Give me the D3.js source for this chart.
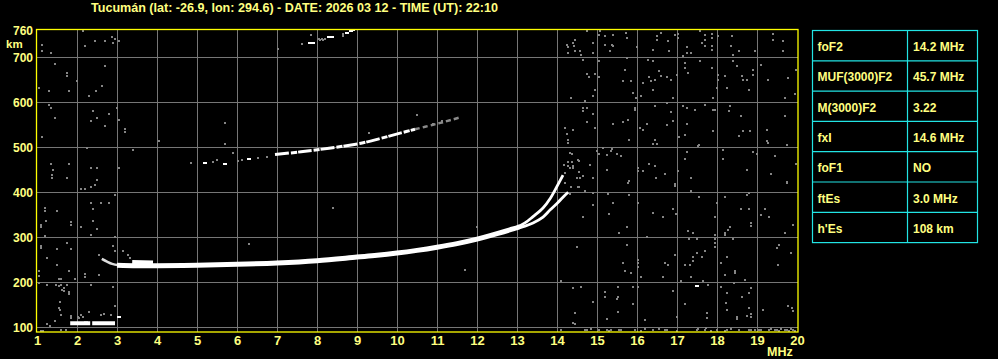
<!DOCTYPE html>
<html>
<head>
<meta charset="utf-8">
<script src="https://d3js.org/d3.v7.min.js"></script>
<style>
body { margin: 0; background: #000; }
svg { display: block; }
text { font-family: "Liberation Sans", Arial, sans-serif; font-weight: bold; fill: #ffff80; }
</style>
</head>
<body>
<div id="chart"></div>
<script>
var title = "Tucumán (lat: -26.9, lon: 294.6) - DATE: 2026 03 12 - TIME (UT): 22:10";

var freqTicks = d3.range(1, 21);
var heightTicks = [100, 200, 300, 400, 500, 600, 700, 760];
var gridHeights = [100, 200, 300, 400, 500, 600, 700];

var paramNames = ["foF2", "MUF(3000)F2", "M(3000)F2", "fxI", "foF1", "ftEs", "h'Es"];
var paramValues = ["14.2 MHz", "45.7 MHz", "3.22", "14.6 MHz", "NO", "3.0 MHz", "108 km"];

// F trace (common part, then O and X branches)
var hookF = [2.62, 2.75, 2.88, 3.05];
var hookH = [252, 246, 241, 238];
var mainF = [3.0, 3.5, 4.0, 5.0, 6.0, 7.0, 8.0, 9.0, 9.5, 10.0, 10.5, 11.0, 11.5, 12.0, 12.5, 12.9, 13.08];
var mainH = [238, 237, 237, 238, 240, 243, 248, 256, 260, 265, 271, 278, 286, 296, 308, 318.5, 324];
var lumpF = [3.38, 3.9];
var lumpH = [245, 244];
var oF = [12.95, 13.2, 13.4, 13.65, 13.83, 14.03, 14.15];
var oH = [320, 332, 346, 365, 386, 418, 438];
var xF = [12.95, 13.2, 13.4, 13.65, 13.83, 14.03, 14.18, 14.28];
var xH = [319, 325, 332, 345, 361, 378, 392, 400];

// second hop
var hop2F = [6.95, 7.6, 8.3, 9.1, 9.6, 10.1, 10.45];
var hop2H = [484, 490, 498, 509, 520, 532, 540];
var hop2TailF = [10.45, 10.9, 11.2, 11.6];
var hop2TailH = [540, 550, 557, 567];
var hop2DotsF = [5.2, 5.7, 6.3];
var hop2DotsH = [466, 464, 474];

// third hop
var hop3F = [7.82, 7.9, 8.3, 8.38, 8.75, 8.85, 8.9];
var hop3H = [732, 732, 746, 746, 754, 759, 760];

// sporadic E
var esF = [1.83, 2.33, 2.38, 2.95];
var esH = [109, 109, 109, 109];

// grey noise dots [MHz, km]
var noiseLeft = [[2.15,758],[2.45,736],[2.7,736],[2.88,745],[2.95,741],[2.9,732],[3.05,736],[1.13,727],[1.13,714],
  [1.35,710],[2.2,725],[1.45,685],[1.75,665],[1.75,658],[2.0,647],[2.7,681],[2.63,636],[2.48,625],[2.3,614],
  [1.8,625],[1.05,632],[1.3,625],[1.3,594],[1.35,587],[1.45,565],[2.4,581],[2.5,565],[2.8,574],[2.7,547],
  [2.35,558],[3.05,561],[3.2,541],[3.2,534],[1.13,523],[3.0,587],[2.25,498],[3.4,494],[1.35,463],[1.8,463],
  [1.4,450],[1.38,438],[1.38,432],[1.75,432],[2.35,454],[2.5,454],[2.5,427],[2.45,416],[2.35,412],[2.1,407],
  [2.2,407],[3.05,454],[2.95,394],[2.35,376],[2.4,363],[2.6,376],[2.8,376],[1.2,365],[1.2,358],[1.5,358],
  [2.1,323],[2.4,336],[2.5,318],[2.35,305],[2.95,301],[1.1,327],[1.1,323],[1.23,336],[1.2,303],[1.85,334],
  [1.85,327],[1.1,281],[1.1,276],[1.25,254],[1.5,274],[1.75,287],[1.85,274],[1.5,238],[1.05,225],[1.05,214],
  [1.05,198],[1.8,225],[1.55,207],[1.6,207],[1.95,207],[2.2,218],[2.2,212],[2.55,216],[2.9,281],[2.95,270],
  [3.15,270],[3.28,261],[3.33,254],[2.55,261],[1.25,194],[1.48,194],[1.6,194],[1.75,194],[1.63,183],[1.68,181],
  [1.8,178],[1.8,174],[1.58,156],[2.35,194],[2.9,190],[2.95,147],[1.55,143],[1.58,138],[1.6,127],[2.3,134],
  [2.1,127],[1.85,125],[1.85,121],[2.05,121],[2.6,127],[2.68,130],[2.85,127],[1.45,114],[1.33,103],[1.6,94],
  [1.73,94],[1.1,92],[1.15,92],[1.55,192],[1.68,187],[2.02,123],[2.15,123],[2.2,112],[2.25,112],[1.25,107]];

var noiseMid = [[4.85,465],[5.4,467],[5.5,472],[5.9,487],[6.03,469],[6.13,472],[6.53,476],[6.75,478],
  [5.7,554],[5.7,507],[9.3,532],[10.5,572],[10.9,552],[11.13,558],[12.0,323],[11.7,227],[7.03,718],
  [7.63,730],[7.85,750],[8.05,741],[8.12,741],[8.2,740],[8.08,738],[8.16,738],[8.65,752],[8.65,748],
  [4.05,514],[8.4,365],[6.3,285]];

var noiseRight = [[14.75,758],[15.08,758],[15.05,750],[15.2,747],[15.4,750],[15.73,754],[15.75,743],[14.25,727],
  [14.28,723],[14.4,732],[14.45,738],[14.43,725],[14.58,714],[14.45,714],[14.28,710],[14.9,732],[14.9,710],
  [15.2,727],[15.38,727],[15.4,725],[15.33,714],[14.65,694],[14.6,705],[15.05,692],[15.75,698],[16.0,723],
  [16.5,747],[16.5,738],[16.6,754],[16.78,736],[16.95,750],[17.03,752],[17.03,743],[16.4,716],[16.8,714],
  [17.25,723],[17.15,703],[17.25,710],[17.35,710],[17.58,758],[17.7,750],[17.7,738],[17.7,725],[17.63,732],
  [17.88,752],[17.88,743],[17.88,725],[17.88,716],[18.03,747],[18.38,747],[18.35,725],[18.4,705],[18.4,692],
  [18.55,714],[18.95,714],[19.4,752],[19.4,738],[19.65,736],[19.65,714],[16.28,694],[16.4,692],[17.2,687],
  [17.2,676],[17.58,692],[17.88,676],[18.5,681],[18.9,672],[19.1,683],[18.63,658],[18.75,650],[18.65,650],
  [18.9,661],[18.03,661],[18.03,650],[18.2,658],[19.28,650],[19.78,654],[19.97,672],[14.75,663],[14.8,656],
  [14.95,663],[15.05,656],[15.7,672],[15.65,647],[15.85,647],[16.3,656],[16.35,647],[16.45,650],[16.55,670],
  [16.6,658],[16.75,656],[16.85,650],[17.0,661],[16.15,643],[17.28,665],[14.95,627],[14.9,614],[14.35,610],
  [14.7,603],[15.9,621],[16.1,614],[15.98,610],[16.4,627],[16.9,610],[17.9,610],[18.0,632],[18.25,632],
  [18.8,627],[19.7,610],[19.95,618],[14.65,587],[14.65,581],[14.75,587],[14.9,574],[14.2,543],[14.25,530],
  [14.4,538],[14.28,516],[14.28,509],[14.75,556],[14.95,543],[15.4,552],[15.65,556],[15.78,561],[15.95,587],
  [15.95,583],[15.8,516],[16.08,543],[16.15,538],[16.25,552],[16.45,592],[16.75,598],[16.85,578],[16.75,550],
  [16.9,558],[16.45,516],[16.4,507],[16.5,507],[17.05,523],[17.15,592],[17.25,587],[17.45,583],[17.25,552],
  [17.2,527],[17.55,505],[17.7,594],[17.9,583],[17.95,583],[17.9,536],[18.33,592],[18.3,581],[18.6,570],
  [18.65,536],[18.55,525],[18.83,536],[19.25,538],[19.25,514],[19.28,510],[19.7,570],[19.75,505],[15.15,498],
  [15.38,496],[15.35,492],[15.05,485],[15.0,492],[14.38,485],[14.55,470],[15.25,483],[15.5,485],[15.6,481],
  [14.83,461],[14.33,454],[14.4,454],[14.2,443],[14.65,436],[14.9,432],[15.25,450],[15.8,425],[16.03,454],
  [16.03,447],[16.15,447],[16.3,463],[16.45,458],[16.7,441],[16.48,432],[17.03,447],[17.25,489],[17.2,474],
  [17.35,432],[17.53,503],[18.15,494],[18.15,474],[18.75,450],[18.9,489],[19.0,485],[19.45,481],[19.35,441],
  [19.97,463],[19.75,423],
  [14.33,487],[14.28,467],[14.38,467],[14.53,472],[14.18,460],[14.28,458],[14.4,458],[14.55,445],[14.5,432],
  [14.58,432],[14.55,412],[14.2,421],[14.35,412],[14.65,345],[14.33,396],
  [14.53,412],[14.7,403],[14.9,398],[15.28,396],[15.78,421],[15.8,394],[16.95,418],[16.95,414],[17.35,403],
  [17.55,390],[18.2,390],[18.8,398],[18.75,394],[19.75,421],[14.9,372],[15.4,376],[16.03,376],[15.3,352],
  [16.4,354],[16.65,345],[16.9,363],[16.98,352],[17.95,345],[18.0,376],[18.6,363],[18.8,363],[19.1,350],
  [19.2,363],[19.3,345],[18.85,332],[18.85,325],[19.9,327],[19.7,310],[15.75,323],[15.55,310],[16.25,301],
  [17.28,314],[17.4,310],[17.3,296],[17.5,296],[17.95,305],[17.95,296],[17.95,287],[17.95,278],[18.2,310],
  [18.2,305],[18.33,323],[18.28,316],[18.4,296],[14.5,278],[15.75,283],[16.03,250],[16.03,243],[16.03,234],
  [15.65,243],[15.7,225],[15.85,221],[16.7,243],[16.78,238],[16.95,261],[16.1,212],[16.65,212],[17.2,238],
  [17.33,238],[17.4,247],[17.4,256],[17.5,265],[17.7,270],[17.63,256],[17.1,203],[17.35,212],[17.65,203],
  [18.1,243],[18.25,256],[18.2,216],[18.45,225],[18.45,221],[18.7,205],[18.43,198],[19.5,276],[19.55,283],
  [19.85,265],[19.53,238],[14.1,203],[14.4,187],[14.6,190],[15.2,178],[15.2,167],[15.53,190],[15.53,167],
  [15.5,163],[14.9,156],[15.9,190],[16.03,190],[15.9,152],[16.9,181],[17.78,194],[18.1,190],[18.25,176],
  [18.8,176],[18.85,187],[18.63,167],[17.2,152],[14.45,132],[14.4,109],[14.45,107],[15.25,118],[15.53,134],
  [16.2,116],[17.0,123],[17.75,132],[17.75,121],[18.25,138],[18.5,123],[18.5,118],[18.75,125],[18.85,130],
  [18.85,123],[18.8,143],[19.15,138],[19.78,147],[19.88,143],[19.9,136],[18.23,154]];

var noiseFloor = [[14.1,95],[14.7,94],[14.75,94],[14.85,96],[15.05,93],[15.25,95],[15.3,92],[15.35,95],[15.55,93],
  [15.6,93],[15.95,94],[16.1,92],[16.2,96],[16.4,95],[16.55,97],[16.7,93],[16.75,95],[17.0,92],[17.5,93],
  [17.52,96],[17.7,94],[17.72,98],[17.85,92],[18.0,95],[18.35,97],[18.55,94],[18.8,93],[18.85,95],[18.95,93],
  [19.05,95],[19.1,93],[19.3,94],[19.35,96],[19.45,93],[19.5,95],[19.55,92],[19.6,96],[19.7,93],[19.75,95],
  [19.8,92],[19.85,96],[19.9,94],[19.95,92],[18.2,92],[18.25,94]];

var whiteDots = [[17.5,192],[3.05,124]];

var W = 998, H = 359;
var svg = d3.select("#chart").append("svg")
    .attr("width", W)
    .attr("height", H);

var x = d3.scaleLinear().domain([1, 20]).range([37, 797]);
var y = d3.scaleLinear().domain([100, 760]).range([327.3, 30.3]);

// title
svg.append("text")
    .attr("x", 91)
    .attr("y", 11.5)
    .attr("textLength", 407)
    .attr("lengthAdjust", "spacingAndGlyphs")
    .style("font-size", "12.5px")
    .text(title);

// grid
var grid = svg.append("g").attr("stroke", "#767676").attr("stroke-width", 1).attr("shape-rendering", "crispEdges");
grid.selectAll(".vline")
    .data(freqTicks.slice(1, -1))
    .enter().append("line")
    .attr("x1", function(d) { return Math.round(x(d)) + 0.5; })
    .attr("x2", function(d) { return Math.round(x(d)) + 0.5; })
    .attr("y1", 30)
    .attr("y2", 332);
grid.selectAll(".hline")
    .data(gridHeights)
    .enter().append("line")
    .attr("x1", 36)
    .attr("x2", 798)
    .attr("y1", function(d) { return Math.round(y(d)) + 0.5; })
    .attr("y2", function(d) { return Math.round(y(d)) + 0.5; });

// noise
var allNoise = noiseLeft.concat(noiseMid, noiseRight, noiseFloor);
svg.append("g").selectAll("rect")
    .data(allNoise)
    .enter().append("rect")
    .attr("x", function(d) { return Math.round(x(d[0])) - 1; })
    .attr("y", function(d) { return Math.round(y(d[1])) - 1; })
    .attr("width", 2)
    .attr("height", 2)
    .attr("fill", "#858585")
    .attr("shape-rendering", "crispEdges");

function zip(fs, hs) {
    return fs.map(function(f, i) { return [f, hs[i]]; });
}

var line = d3.line()
    .x(function(d) { return x(d[0]); })
    .y(function(d) { return y(d[1]); })
    .curve(d3.curveCatmullRom.alpha(0.5));

var traces = svg.append("g").attr("fill", "none").attr("stroke-linecap", "butt");

traces.append("path").attr("d", line(zip(hop2TailF, hop2TailH)))
    .attr("stroke", "#8a8a8a").attr("stroke-width", 2.5).attr("stroke-dasharray", "5,3");
traces.append("path").attr("d", line(zip(hop2F, hop2H)))
    .attr("stroke", "#fff").attr("stroke-width", 3).attr("stroke-dasharray", "14,2,6,1");
traces.append("path").attr("d", line(zip(hookF, hookH)))
    .attr("stroke", "#ddd").attr("stroke-width", 2.5);
traces.append("path").attr("d", line(zip(mainF, mainH)))
    .attr("stroke", "#fff").attr("stroke-width", 5);
traces.append("path").attr("d", line(zip(lumpF, lumpH)))
    .attr("stroke", "#fff").attr("stroke-width", 4);
traces.append("path").attr("d", line(zip(oF, oH)))
    .attr("stroke", "#fff").attr("stroke-width", 2.8);
traces.append("path").attr("d", line(zip(xF, xH)))
    .attr("stroke", "#fff").attr("stroke-width", 2.8);
traces.append("path").attr("d", line(zip(esF.slice(0, 2), esH.slice(0, 2))))
    .attr("stroke", "#fff").attr("stroke-width", 4);
traces.append("path").attr("d", line(zip(esF.slice(2), esH.slice(2))))
    .attr("stroke", "#fff").attr("stroke-width", 4);

svg.append("g").selectAll("rect")
    .data(zip(hop2DotsF, hop2DotsH).concat(zip(hop3F, hop3H), whiteDots))
    .enter().append("rect")
    .attr("x", function(d) { return Math.round(x(d[0])) - 2; })
    .attr("y", function(d) { return Math.round(y(d[1])) - 1; })
    .attr("width", 4)
    .attr("height", 2)
    .attr("fill", "#fff");

// frame
svg.append("rect")
    .attr("x", 36.5)
    .attr("y", 29.5)
    .attr("width", 761.5)
    .attr("height", 302.5)
    .attr("fill", "none")
    .attr("stroke", "#ffff00")
    .attr("stroke-width", 1.3);

// axes
var xAxis = d3.axisBottom(x).tickValues(freqTicks).tickSize(0).tickPadding(0);
var gx = svg.append("g").attr("transform", "translate(0,336)").call(xAxis);
gx.select(".domain").remove();
gx.selectAll("text")
    .attr("dy", "0.71em")
    .style("font-size", "13px")
    .style("font-family", "Liberation Sans, Arial, sans-serif")
    .attr("fill", "#ffff80");

var yAxis = d3.axisLeft(y).tickValues(heightTicks).tickSize(0).tickPadding(0);
var gy = svg.append("g").attr("transform", "translate(33,0)").call(yAxis);
gy.select(".domain").remove();
gy.selectAll("text")
    .style("font-size", "12px")
    .style("font-family", "Liberation Sans, Arial, sans-serif")
    .attr("fill", "#ffff80");

svg.append("text").attr("x", 6).attr("y", 47.6).style("font-size", "11.5px").text("km");
svg.append("text").attr("x", 767).attr("y", 356).style("font-size", "12.5px").text("MHz");

// parameter table
var tableX = 812.5, tableW = 165, colX = 907.5, tableY = 30.5, rowH = 30.3;
var table = svg.append("g");
table.append("rect")
    .attr("x", tableX).attr("y", tableY)
    .attr("width", tableW).attr("height", rowH * paramNames.length)
    .attr("fill", "none").attr("stroke", "#22e4e4").attr("stroke-width", 1.2);
table.append("line")
    .attr("x1", colX).attr("x2", colX)
    .attr("y1", tableY).attr("y2", tableY + rowH * paramNames.length)
    .attr("stroke", "#22e4e4").attr("stroke-width", 1.2);
table.selectAll(".sep")
    .data(d3.range(1, paramNames.length))
    .enter().append("line")
    .attr("x1", tableX).attr("x2", tableX + tableW)
    .attr("y1", function(i) { return tableY + i * rowH; })
    .attr("y2", function(i) { return tableY + i * rowH; })
    .attr("stroke", "#22e4e4").attr("stroke-width", 1.2);
table.selectAll(".pname")
    .data(paramNames)
    .enter().append("text")
    .attr("x", tableX + 5)
    .attr("y", function(d, i) { return tableY + i * rowH + 20.5; })
    .style("font-size", "12px")
    .text(function(d) { return d; });
table.selectAll(".pval")
    .data(paramValues)
    .enter().append("text")
    .attr("x", colX + 5.5)
    .attr("y", function(d, i) { return tableY + i * rowH + 20.5; })
    .style("font-size", "12px")
    .text(function(d) { return d; });
</script>
</body>
</html>
